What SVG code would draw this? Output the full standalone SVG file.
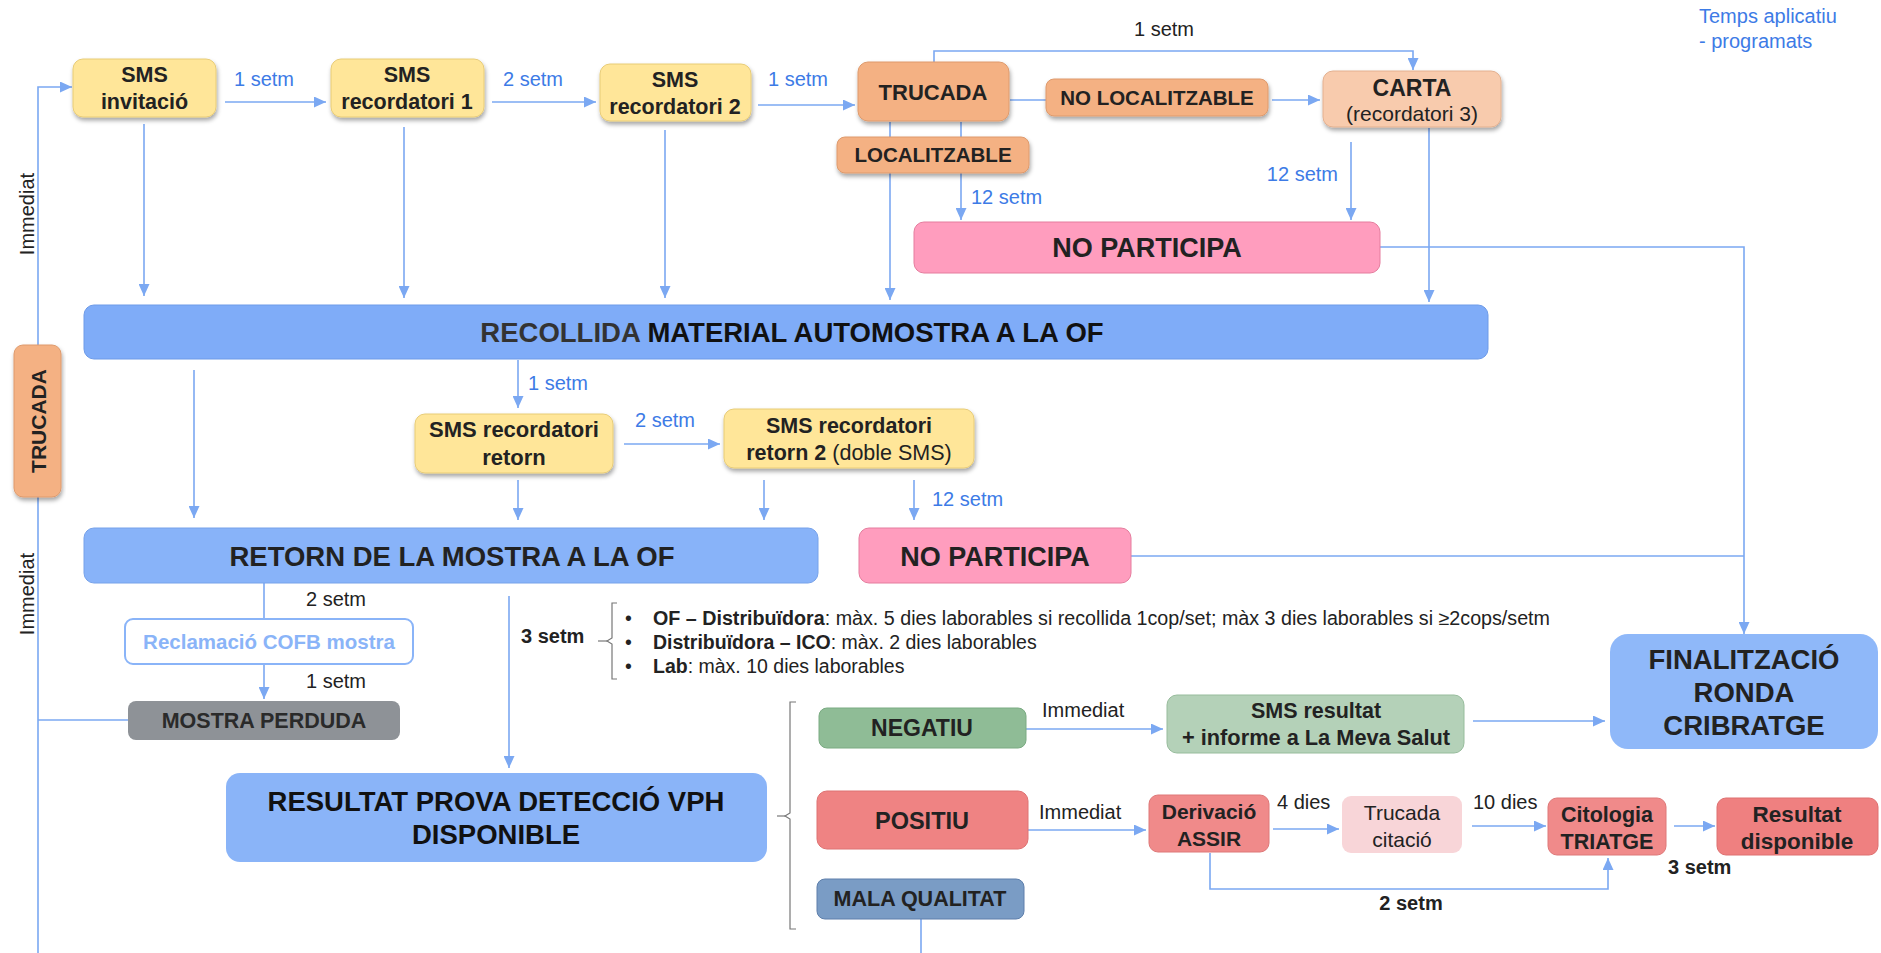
<svg xmlns="http://www.w3.org/2000/svg" width="1881" height="953" viewBox="0 0 1881 953">
<defs>
<filter id="sh" x="-10%" y="-10%" width="120%" height="140%">
<feDropShadow dx="1" dy="3" stdDeviation="2" flood-color="#000" flood-opacity="0.35"/>
</filter>
<marker id="ar" viewBox="0 0 12 11" refX="12" refY="5.5" markerWidth="12" markerHeight="11" markerUnits="userSpaceOnUse" orient="auto">
<path d="M0,0 L12,5.5 L0,11 z" fill="#7BA8F2"/>
</marker>
</defs>
<style>
text{font-family:"Liberation Sans",Arial,sans-serif;fill:#222}
.b{font-weight:bold}
.c{text-anchor:middle}
.lb{font-size:20px;fill:#3D7BE6}
.lk{font-size:20px;fill:#222}
.bl{font-size:19.5px;fill:#222}
.cn path{fill:none;stroke:#7BA8F2;stroke-width:1.6}
.ar{marker-end:url(#ar)}
.br{fill:none;stroke:#777;stroke-width:1.2}
.yel{fill:#FFE699;stroke:#E8CC77;stroke-width:1}
.org{fill:#F4B183;stroke:#DE9A6C;stroke-width:1}
.lor{fill:#F8CBAD;stroke:#E3B08F;stroke-width:1}
.pnk{fill:#FF9DBE;stroke:#E57D9E;stroke-width:1}
.blu{fill:#7FACF8;stroke:#6E9BE8;stroke-width:1}
.blu2{fill:#88B3F9;stroke:#77A2EA;stroke-width:1}
</style>
<g class="cn">
<path class="ar" d="M225,102 H326"/>
<path class="ar" d="M492,102 H596"/>
<path class="ar" d="M758,105 H855"/>
<path d="M1010,100 H1046"/>
<path class="ar" d="M1272,100 H1320"/>
<path class="ar" d="M934,62 V51 H1413 V70"/>
<path class="ar" d="M890,122 V300"/>
<path class="ar" d="M961,122 V220"/>
<path class="ar" d="M1351,142 V220"/>
<path class="ar" d="M1429,128 V302"/>
<path class="ar" d="M1380,247 H1744 V634"/>
<path class="ar" d="M144,124 V296"/>
<path class="ar" d="M404,127 V298"/>
<path class="ar" d="M665,130 V298"/>
<path class="ar" d="M38,953 V87 H72"/>
<path d="M38,720 H128"/>
<path class="ar" d="M194,370 V518"/>
<path class="ar" d="M518,360 V408"/>
<path class="ar" d="M624,444 H720"/>
<path class="ar" d="M518,480 V520"/>
<path class="ar" d="M764,480 V520"/>
<path class="ar" d="M914,480 V520"/>
<path d="M1131,556 H1744"/>
<path d="M264,583 V619"/>
<path class="ar" d="M264,664 V699"/>
<path class="ar" d="M509,596 V768"/>
<path class="ar" d="M1026,729 H1163"/>
<path class="ar" d="M1473,721 H1605"/>
<path class="ar" d="M1028,830 H1146"/>
<path class="ar" d="M1273,829 H1339"/>
<path class="ar" d="M1472,826 H1546"/>
<path class="ar" d="M1674,826 H1715"/>
<path class="ar" d="M1210,853 V889 H1608 V858"/>
<path d="M921,919 V953"/>
</g>
<g id="labels">
<text class="lb c" x="264" y="86">1 setm</text>
<text class="lb c" x="533" y="86">2 setm</text>
<text class="lb c" x="798" y="86">1 setm</text>
<text class="lk c" x="1164" y="36">1 setm</text>
<text class="lb" x="971" y="204">12 setm</text>
<text class="lb" x="1338" y="181" text-anchor="end">12 setm</text>
<text class="lb" x="1699" y="23">Temps aplicatiu</text>
<text class="lb" x="1699" y="48">- programats</text>
<text class="lk c" transform="translate(34,214) rotate(-90)">Immediat</text>
<text class="lk c" transform="translate(34,594) rotate(-90)">Immediat</text>
<text class="lb" x="528" y="390">1 setm</text>
<text class="lb c" x="665" y="427">2 setm</text>
<text class="lb" x="932" y="506">12 setm</text>
<text class="lk" x="306" y="606">2 setm</text>
<text class="lk" x="306" y="688">1 setm</text>
<text class="lk b" x="521" y="643" font-size="21">3 setm</text>
<path class="br" d="M617,603 H612 V638 L607,641 L612,644 V679 H617"/>
<path class="br" d="M598,641 H607"/>
<text class="bl" x="625" y="625">•</text>
<text class="bl" x="625" y="649">•</text>
<text class="bl" x="625" y="673">•</text>
<text class="bl" x="653" y="625" textLength="897" lengthAdjust="spacingAndGlyphs"><tspan class="b">OF – Distribuïdora</tspan>: màx. 5 dies laborables si recollida 1cop/set; màx 3 dies laborables si ≥2cops/setm</text>
<text class="bl" x="653" y="649"><tspan class="b">Distribuïdora – ICO</tspan>: màx. 2 dies laborables</text>
<text class="bl" x="653" y="673"><tspan class="b">Lab</tspan>: màx. 10 dies laborables</text>
<path class="br" d="M796,702 H790 V813 L785,816 L790,819 V929 H796"/>
<path class="br" d="M777,816 H785"/>
<text class="lk" x="1042" y="717">Immediat</text>
<text class="lk" x="1039" y="819">Immediat</text>
<text class="lk" x="1277" y="809">4 dies</text>
<text class="lk" x="1473" y="809">10 dies</text>
<text class="lk b" x="1668" y="874" font-size="22">3 setm</text>
<text class="lk b c" x="1411" y="910" font-size="22">2 setm</text>
</g>
<g id="sms-invitacio">
<rect x="73" y="59" width="143" height="58" rx="10" class="yel" filter="url(#sh)"/>
<text class="b c" x="144.5" y="82" font-size="21.5">SMS</text>
<text class="b c" x="144.5" y="109" font-size="21.5">invitació</text>
</g>
<g id="sms-recordatori-1">
<rect x="331" y="59" width="153" height="58" rx="10" class="yel" filter="url(#sh)"/>
<text class="b c" x="407" y="82" font-size="21.5">SMS</text>
<text class="b c" x="407" y="109" font-size="21.5">recordatori 1</text>
</g>
<g id="sms-recordatori-2">
<rect x="600" y="64" width="151" height="57" rx="10" class="yel" filter="url(#sh)"/>
<text class="b c" x="675" y="87" font-size="21.5">SMS</text>
<text class="b c" x="675" y="114" font-size="21.5">recordatori 2</text>
</g>
<g id="trucada">
<rect x="858" y="62" width="151" height="59" rx="10" class="org" filter="url(#sh)"/>
<text class="b c" x="933" y="100" font-size="22">TRUCADA</text>
</g>
<g id="no-localitzable">
<rect x="1046" y="79" width="222" height="37" rx="8" class="org" filter="url(#sh)"/>
<text class="b c" x="1157" y="105" font-size="20.5">NO LOCALITZABLE</text>
</g>
<g id="carta">
<rect x="1323" y="71" width="178" height="56" rx="10" class="lor" filter="url(#sh)"/>
<text class="b c" x="1412" y="96" font-size="23">CARTA</text>
<text class="c" x="1412" y="121" font-size="21">(recordatori 3)</text>
</g>
<g id="localitzable">
<rect x="837" y="137" width="192" height="36" rx="8" class="org" filter="url(#sh)"/>
<text class="b c" x="933" y="162" font-size="20.5">LOCALITZABLE</text>
</g>
<g id="no-participa-1">
<rect x="914" y="222" width="466" height="51" rx="10" class="pnk"/>
<text class="b c" x="1147" y="257" font-size="27">NO PARTICIPA</text>
</g>
<g id="recollida">
<rect x="84" y="305" width="1404" height="54" rx="10" class="blu"/>
<text class="b c" x="792" y="342" font-size="27.5"><tspan fill="#333">RECOLLIDA</tspan> <tspan fill="#111">MATERIAL AUTOMOSTRA A LA OF</tspan></text>
</g>
<g id="trucada-lateral">
<rect x="14" y="345" width="47" height="152" rx="9" class="org" filter="url(#sh)"/>
<text class="b c" transform="translate(45.5,421) rotate(-90)" font-size="21" fill="#333">TRUCADA</text>
</g>
<g id="sms-recordatori-retorn">
<rect x="415" y="414" width="198" height="59" rx="10" class="yel" filter="url(#sh)"/>
<text class="b c" x="514" y="437" font-size="22">SMS recordatori</text>
<text class="b c" x="514" y="465" font-size="22">retorn</text>
</g>
<g id="sms-recordatori-retorn-2">
<rect x="724" y="409" width="250" height="59" rx="10" class="yel" filter="url(#sh)"/>
<text class="b c" x="849" y="433" font-size="21.5">SMS recordatori</text>
<text class="c" x="849" y="460" font-size="21.5"><tspan class="b">retorn 2</tspan> (doble SMS)</text>
</g>
<g id="retorn">
<rect x="84" y="528" width="734" height="55" rx="10" class="blu2"/>
<text class="b c" x="452" y="566" font-size="27.5" fill="#111">RETORN DE LA MOSTRA A LA OF</text>
</g>
<g id="no-participa-2">
<rect x="859" y="528" width="272" height="55" rx="10" class="pnk"/>
<text class="b c" x="995" y="566" font-size="27">NO PARTICIPA</text>
</g>
<g id="reclamacio">
<rect x="125" y="619" width="288" height="45" rx="8" fill="#fff" stroke="#8AB4F8" stroke-width="2"/>
<text class="b c" x="269" y="649" font-size="20.5" style="fill:#8AB4F8">Reclamació  COFB mostra</text>
</g>
<g id="mostra-perduda">
<rect x="128" y="701" width="272" height="39" rx="8" fill="#8E9297"/>
<text class="b c" x="264" y="728" font-size="21.5" style="fill:#2A2A2A">MOSTRA PERDUDA</text>
</g>
<g id="resultat-vph">
<rect x="226" y="773" width="541" height="89" rx="14" fill="#8AB4F8"/>
<text class="b c" x="496" y="811" font-size="27.5" style="fill:#111">RESULTAT PROVA DETECCIÓ VPH</text>
<text class="b c" x="496" y="844" font-size="27.5" style="fill:#111">DISPONIBLE</text>
</g>
<g id="negatiu">
<rect x="819" y="708" width="207" height="40" rx="8" fill="#8FBC96" stroke="#7AAB82"/>
<text class="b c" x="922" y="736" font-size="23">NEGATIU</text>
</g>
<g id="sms-resultat">
<rect x="1167" y="695" width="297" height="58" rx="10" fill="#B4D1B8" stroke="#97BC9C"/>
<text class="b c" x="1316" y="718" font-size="21.5">SMS resultat</text>
<text class="b c" x="1316" y="745" font-size="21.5" textLength="268" lengthAdjust="spacingAndGlyphs">+ informe a La Meva Salut</text>
</g>
<g id="finalitzacio">
<rect x="1610" y="634" width="268" height="115" rx="18" fill="#8FB8F9"/>
<text class="b c" x="1744" y="669" font-size="27.5">FINALITZACIÓ</text>
<text class="b c" x="1744" y="702" font-size="27.5">RONDA</text>
<text class="b c" x="1744" y="735" font-size="27.5">CRIBRATGE</text>
</g>
<g id="positiu">
<rect x="817" y="791" width="211" height="58" rx="10" fill="#EF8383" stroke="#DE7272"/>
<text class="b c" x="922" y="829" font-size="23.5">POSITIU</text>
</g>
<g id="derivacio">
<rect x="1149" y="795" width="120" height="57" rx="9" fill="#F08A8A" stroke="#DE7878"/>
<text class="b c" x="1209" y="819" font-size="21">Derivació</text>
<text class="b c" x="1209" y="846" font-size="21">ASSIR</text>
</g>
<g id="trucada-citacio">
<rect x="1342" y="796" width="120" height="57" rx="9" fill="#F8D5D8"/>
<text class="c" x="1402" y="820" font-size="21">Trucada</text>
<text class="c" x="1402" y="847" font-size="21">citació</text>
</g>
<g id="citologia">
<rect x="1548" y="798" width="118" height="57" rx="9" fill="#F08A8A" stroke="#DE7878"/>
<text class="b c" x="1607" y="822" font-size="21.5">Citologia</text>
<text class="b c" x="1607" y="849" font-size="21.5">TRIATGE</text>
</g>
<g id="resultat-disponible">
<rect x="1717" y="798" width="161" height="57" rx="9" fill="#EF8080" stroke="#DE7070"/>
<text class="b c" x="1797" y="822" font-size="22.5">Resultat</text>
<text class="b c" x="1797" y="849" font-size="22.5">disponible</text>
</g>
<g id="mala-qualitat">
<rect x="817" y="879" width="207" height="40" rx="8" fill="#7A9CC5" stroke="#5E7FAB"/>
<text class="b c" x="920" y="906" font-size="21.5">MALA QUALITAT</text>
</g>
</svg>
